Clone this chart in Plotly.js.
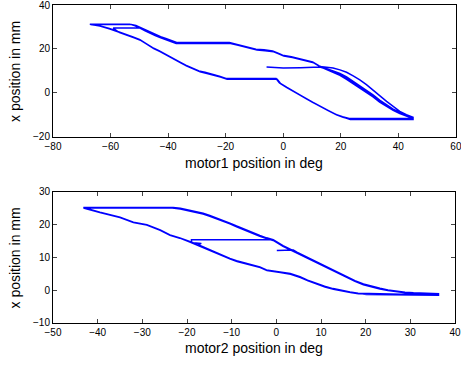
<!DOCTYPE html>
<html>
<head>
<meta charset="utf-8">
<script src="https://cdn.plot.ly/plotly-3.0.1.min.js"></script>
<style>html,body{margin:0;padding:0;background:#fff;}#chart{width:461px;height:365px;}</style>
</head>
<body>
<div id="chart"></div>
<script>
// ---- top subplot: motor1 position (deg) vs x position (mm), recorded trajectory ----
const motor1Deg = [
  -5.8,0,6,12.7,
  15,17.4,19.7,22,24.3,26.6,28.9,31.2,33.5,35.9,38.2,40.5,42.8,45.1,
  45.1,35,23.1,
  20.8,18.5,15.6,12.7,10.4,8.1,5.8,3.4,1.1,-1.2,-2.3,
  -10,-19.7,
  -22,-24.3,-27,-29.1,-31.5,-33.7,-35.5,-37,-38.8,-40.5,-43,-45.2,-47.5,-49.8,-52,-54.4,-57.3,-60.2,-63.7,-67.2,
  -60,-53.3,
  -51.5,-49.8,-48,-46.3,-44.5,-42.8,-41,-39.4,-37,-28,-18.5,-16.2,-13.9,-11.6,-9.3,-6.5,-3.5,-1.8,0,3,5.8,8,10.4,12.7,
  15,17.3,19.7,22,24.3,26.6,28.9,31.2,33.5,35.9,38.2,40.5,42.8,45.1,
  45.1,35,23.3,
  21,18.7,15.8,12.9,10.6,8.3,6,3.6,1.3,-1,-2.1,
  -10,-19.5,
  -21.8,-24.1,-26.8,-28.9,-31.3,-33.5,-35.3,-36.8,-38.6,-40.3,-42.8,-45,-47.3,-49.6,-51.8,-54.2,-57.1,
  -59.1,-54,-49.8,
  -48,-46.3,-44.5,-42.8,-41,-39.4,-37.2,-28,-18.3,-16,-13.7,-11.4,-9.1,-6.3,-3.3,-1.6,0.2,3.2,6,8.2,10.6,12.9,
  15,17.4,19.7,22,24.3,26.6,28.9,31.2,33.5,35.9,38.2,40.5,42.8,45.1,
  45.1,35,22.9,
  20.6,18.3,15.4,12.5,10.2,7.9,5.6,3.2,0.9,-1.4,-2.5,
  -10,-19.9,
  -22.2,-24.5,-27.2,-29.3,-31.7,-33.9,-35.7,-37.2,-39,-40.7,-43.2,-45.4,-47.7,-50,-52.2,-54.6,-57.5,-60.4,-63.9,-67,
  -60,-52.8,
  -51.2,-49.6,-47.8,-46.1,-44.3,-42.6,-40.8,-39.2,-36.8,-28,-18.7,-16.4,-14.1,-11.8,-9.5,-6.7,-3.7,-2,-0.2,2.8,5.6,7.8,10.2,12.5,
  15,17.4,19.7,22,24.3,26.6,28.9,31.2,33.5,35.9,38.2,40.5,42.8,45.1
];
const motor1Pos = [
  11.8,11.4,11.5,11.8,
  10.9,9.7,8.3,6.5,4.5,2.6,0.7,-1.5,-3.8,-5.8,-7.6,-9,-10.3,-11.2,
  -11.8,-11.8,-11.8,
  -11,-9.9,-8,-6.1,-4.4,-2.7,-1,0.7,2.6,4.5,6.4,
  6.4,6.4,
  7.4,8.3,9.2,9.8,11.1,12.4,13.7,14.8,16.1,17.4,19,20.4,22.3,24.2,25.3,26.5,27.8,29.1,30.4,31.3,
  31.3,31.3,
  30.5,29.5,28.4,27.3,26.3,25.4,24.6,23.9,22.7,22.7,22.7,22,21.2,20.4,19.7,19.4,18.9,18,17,16.3,15.5,14.8,13.9,12.1,
  11.8,11.4,10.5,9.4,7.8,6,3.8,1.5,-1.2,-3.8,-6.2,-8.4,-9.9,-11,
  -12,-12,-12,
  -11.1,-10,-8.1,-6.2,-4.5,-2.8,-1.1,0.6,2.5,4.4,6.2,
  6.2,6.2,
  7.2,8.1,9,9.6,10.9,12.2,13.5,14.6,15.9,17.2,18.8,20.2,22.1,24,25.1,26.3,27.6,
  29.5,29.5,29.5,
  28.3,27.1,26.1,25.2,24.4,23.7,22.5,22.5,22.5,21.8,21,20.2,19.5,19.2,18.7,17.8,16.8,16.1,15.3,14.6,13.7,11.9,
  10.6,9.4,8,6.2,4.2,2.3,0.4,-1.8,-4.1,-6.1,-7.9,-9.3,-10.5,-11.4,
  -11.6,-11.6,-11.6,
  -10.8,-9.7,-7.8,-5.9,-4.2,-2.5,-0.8,0.9,2.8,4.7,6.6,
  6.6,6.6,
  7.6,8.5,9.4,10,11.3,12.6,13.9,15,16.3,17.6,19.2,20.6,22.5,24.4,25.5,26.7,28,29.3,30.6,31.1,
  31.1,31.1,
  30.7,29.7,28.6,27.5,26.5,25.6,24.8,24.1,22.9,22.9,22.9,22.2,21.4,20.6,19.9,19.6,19.1,18.2,17.2,16.5,15.7,15,14.1,12.3,
  11.2,10.2,8.9,7.3,5.3,3.4,1.3,-0.9,-3.2,-5.4,-7.3,-8.8,-10.1,-11.1
];

// ---- bottom subplot: motor2 position (deg) vs x position (mm), recorded trajectory ----
const motor2Deg = [
  0.1,2,3.8,
  4.6,6.5,8.3,10.2,12,13.9,15.7,17.6,19.5,21.3,23.2,25,26.9,28.8,30.7,33.5,36.3,
  36.3,28,20.2,
  18.3,16.5,14.6,12.7,10.8,9,7,5.3,3.1,0.8,-2.2,-3.7,-5.5,-7.4,-8.9,-10.4,-12.6,-15.6,-17.2,-18.6,-19,
  -19,-12,-3.7,-0.7,
  1.5,3,4.6,6.5,8.3,10.2,12,13.9,15.7,17.6,19.5,21.3,23.2,25,26.9,28.8,30.7,33.5,36.3,
  36.3,28,20.1,
  18.3,16.5,14.6,12.7,10.8,9,7,5.3,3.1,0.8,-2.2,-3.7,-5.5,-7.4,-8.9,-10.4,-12.6,-15.6,-17.5,-16.8,-18.6,-21.6,-23.8,-26,-29,-32,-35,-39.5,-43.2,
  -43.2,-33,-23.1,
  -21.5,-20.1,-18.2,-16.4,-14.9,-13.4,-11.9,-10.4,-8.9,-7.4,-5.5,-3.7,-2.2,-0.7,1.5,3,4.6,6.5,8.3,10.2,12,13.9,15.7,17.6,19.5,21.3,23.2,25,26.9,28.8,30.7,33.5,36.3,
  36.3,28,20.3,
  18.4,16.6,14.7,12.8,10.9,9.1,7.1,5.4,3.2,0.9,-2.1,-3.6,-5.4,-7.3,-8.8,-10.3,-12.5,-15.5,-17.1,-18.6,-19.5,-21.6,-23.8,-26,-29,-32,-35,-39.5,-43.2,
  -43.2,-33,-23.3,
  -21.5,-20.1,-18.2,-16.4,-14.9,-13.4,-11.9,-10.4,-8.9,-7.4,-5.5,-3.7,-2.2,-0.7,1.5,3,4.6,6.5,8.3,10.2,12,13.9,15.7,17.6,19.5,21.3,23.2,25,26.9,28.8,30.7,33.5,36.3
];
const motor2Pos = [
  12.1,12.1,12.3,
  11.6,10.3,9.1,7.8,6.5,5.2,4,2.9,1.9,1.2,0.6,0.1,-0.3,-0.6,-0.8,-1,-1.1,
  -1.5,-1.4,-1.3,
  -1,-0.6,-0.2,0.4,1.1,1.9,3,4,5,5.5,6.1,7,7.6,8.3,8.9,9.6,10.9,12.6,13.5,14.4,14.6,
  15.4,15.4,15.3,15.4,
  13.6,12.6,11.5,10.2,9,7.7,6.4,5.1,3.9,2.8,1.8,1.1,0.5,0,-0.4,-0.7,-0.9,-1.1,-1.2,
  -1.3,-1.2,-1.1,
  -0.9,-0.5,-0.1,0.5,1.2,2,3.1,4.1,5.1,5.6,6.2,7.1,7.7,8.4,9,9.7,11,12.7,13.9,14.3,14.5,16,16.9,18.4,20,20.8,22.3,23.8,25.1,
  25.3,25.3,25.3,
  25,24.6,24.1,23.5,22.8,22.1,21.3,20.5,19.6,18.7,17.7,16.7,16,15.4,13.6,12.6,11.6,10.3,9.1,7.8,6.5,5.2,4,2.9,1.9,1.2,0.6,0.1,-0.3,-0.6,-0.8,-1,-1.1,
  -1.4,-1.3,-1.2,
  -1.1,-0.7,-0.3,0.3,1,1.8,2.9,3.9,4.9,5.4,6,6.9,7.5,8.2,8.8,9.5,10.8,12.5,13.4,14.2,14.8,15.9,16.8,18.3,19.9,20.7,22.2,23.7,25,
  25.1,25.1,25.1,
  24.8,24.4,23.9,23.3,22.6,21.9,21.1,20.3,19.4,18.5,17.5,16.5,15.8,15.2,13.4,12.4,11.4,10.1,8.9,7.6,6.3,5,3.8,2.7,1.7,1,0.4,-0.1,-0.5,-0.8,-1,-1.2,-1.4
];

// tick values
const xTicks1 = [-80,-60,-40,-20,0,20,40,60];
const yTicks1 = [-20,0,20,40];
const xTicks2 = [-50,-40,-30,-20,-10,0,10,20,30,40];
const yTicks2 = [-10,0,10,20,30];

// axis titles
const xTitle1 = 'motor1 position in deg';
const xTitle2 = 'motor2 position in deg';
const yTitle = 'x position in mm';

const FONT = 'Liberation Sans, Arial, Helvetica, sans-serif';
const axBase = {
  showgrid:false, zeroline:false, showline:true, linecolor:'#000', linewidth:1,
  mirror:'ticks', ticks:'inside', ticklen:4, tickcolor:'#444', tickwidth:1,
  ticklabeloverflow:'allow',
  tickfont:{family:FONT,size:10,color:'#000'}, fixedrange:true
};

const traces = [
  {x:motor1Deg, y:motor1Pos, xaxis:'x', yaxis:'y', type:'scatter', mode:'lines',
   line:{color:'#0000ff', width:1.5}, hoverinfo:'skip'},
  {x:motor2Deg, y:motor2Pos, xaxis:'x2', yaxis:'y2', type:'scatter', mode:'lines',
   line:{color:'#0000ff', width:1.5}, hoverinfo:'skip'}
];

const titleFont = {family:FONT,size:14,color:'#000'};
const layout = {
  width:461, height:365, margin:{l:0,r:0,t:0,b:0},
  paper_bgcolor:'#fff', plot_bgcolor:'#fff', showlegend:false,
  font:{family:FONT,color:'#000'},
  xaxis:Object.assign({}, axBase, {domain:[0.115,0.989], range:[-80,60], tickvals:xTicks1, anchor:'y'}),
  yaxis:Object.assign({}, axBase, {domain:[0.6247,0.9863], range:[-20,40], tickvals:yTicks1, anchor:'x'}),
  xaxis2:Object.assign({}, axBase, {domain:[0.115,0.987], range:[-50,40], tickvals:xTicks2, anchor:'y2'}),
  yaxis2:Object.assign({}, axBase, {domain:[0.1151,0.474], range:[-10,30], tickvals:yTicks2, anchor:'x2'}),
  annotations:[
    {text:xTitle1, xref:'paper', yref:'paper', x:0.552, y:0.5534, xanchor:'center', yanchor:'middle', showarrow:false, font:titleFont},
    {text:xTitle2, xref:'paper', yref:'paper', x:0.551, y:0.0466, xanchor:'center', yanchor:'middle', showarrow:false, font:titleFont},
    {text:yTitle, xref:'paper', yref:'paper', x:0.0325, y:0.8055, xanchor:'center', yanchor:'middle', textangle:-90, showarrow:false, font:titleFont},
    {text:yTitle, xref:'paper', yref:'paper', x:0.0325, y:0.2945, xanchor:'center', yanchor:'middle', textangle:-90, showarrow:false, font:titleFont}
  ]
};

Plotly.newPlot('chart', traces, layout, {staticPlot:true, displayModeBar:false});
</script>
</body>
</html>
